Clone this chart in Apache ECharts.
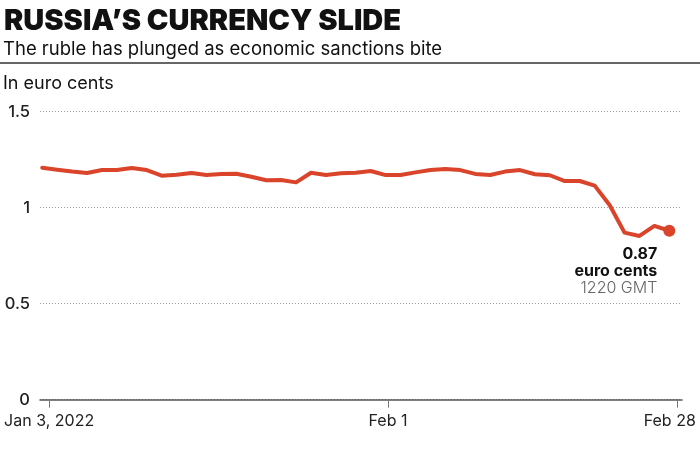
<!DOCTYPE html>
<html>
<head>
<meta charset="utf-8">
<script src="https://cdn.jsdelivr.net/npm/echarts@6/dist/echarts.min.js"></script>
<style>html,body{margin:0;padding:0;background:#fff}#c{width:700px;height:450px}</style>
</head>
<body>
<div id="c"></div>
<script>
// Ruble value in euro cents, daily-ish points Jan 3 – Feb 28, 2022
const values = [1.208, 1.198, 1.188, 1.181, 1.196, 1.196, 1.207, 1.196, 1.167, 1.172,
  1.181, 1.170, 1.176, 1.177, 1.161, 1.143, 1.144, 1.132, 1.182, 1.170,
  1.179, 1.182, 1.191, 1.170, 1.170, 1.184, 1.196, 1.202, 1.196, 1.176,
  1.170, 1.188, 1.196, 1.174, 1.169, 1.139, 1.139, 1.115, 1.014, 0.870,
  0.853, 0.905, 0.880];
const tickPositions = [0.46, 23.16, 42.5];
const tickLabels = ['Jan 3, 2022', 'Feb 1', 'Feb 28'];
const yTicks = [0, 0.5, 1, 1.5];
const lastLabel = ['0.87', 'euro cents', '1220 GMT'];

const FONT = 'Inter, "Noto Sans", sans-serif';
const RED = '#d9442b';
const last = values.length - 1;
const seriesData = values.map((v, i) => i === last ? {
  value: [i, v],
  symbol: 'circle', symbolSize: 12,
  itemStyle: {color: RED},
  label: {
    show: true, position: [-6, 21], align: 'right', verticalAlign: 'top',
    formatter: '{b|' + lastLabel[0] + '}\n{b|' + lastLabel[1] + '}\n{g|' + lastLabel[2] + '}',
    rich: {
      b: {fontFamily: FONT, fontWeight: 700, fontSize: 16, color: '#111', lineHeight: 17, align: 'right'},
      g: {fontFamily: FONT, fontWeight: 300, fontSize: 16, color: '#666', lineHeight: 17, align: 'right'}
    }
  }
} : {value: [i, v], symbol: 'none'});

const chart = echarts.init(document.getElementById('c'), null, {renderer: 'canvas'});
chart.setOption({
  animation: false,
  backgroundColor: '#fff',
  title: [
    {text: 'RUSSIA\u2019S CURRENCY SLIDE', left: -1, top: 2,
     textStyle: {fontFamily: FONT, fontWeight: 900, fontSize: 29, color: '#111'}},
    {text: 'The ruble has plunged as economic sanctions bite', left: -2, top: 35,
     textStyle: {fontFamily: FONT, fontWeight: 400, fontSize: 18.5, color: '#111'}},
    {text: 'In euro cents', left: -2, top: 70,
     textStyle: {fontFamily: FONT, fontWeight: 400, fontSize: 18, color: '#111'}}
  ],
  graphic: [
    {type: 'line', shape: {x1: 0, y1: 63, x2: 700, y2: 63}, style: {stroke: '#333', lineWidth: 1.5}}
  ],
  grid: {left: 40, right: 18, top: 111.7, bottom: 50.3, containLabel: false},
  xAxis: {
    type: 'value', min: -0.15, max: 42.85,
    axisLine: {show: true, lineStyle: {color: '#555', width: 1.5}},
    axisTick: {show: true, customValues: tickPositions, length: 8, lineStyle: {color: '#777', width: 1}},
    axisLabel: {
      customValues: tickPositions, margin: 13,
      fontFamily: FONT, fontSize: 16, color: '#222',
      formatter: function (v) {
        const i = tickPositions.indexOf(v);
        if (i < 0) return '';
        if (i === tickLabels.length - 1) return '{r|' + tickLabels[i] + '}';
        return tickLabels[i];
      },
      rich: {r: {fontFamily: FONT, fontSize: 16, color: '#222', padding: [0, 14, 0, 0]}}
    },
    splitLine: {show: false}
  },
  yAxis: {
    type: 'value', min: 0, max: 1.5, interval: 0.5,
    axisLine: {show: false}, axisTick: {show: false},
    axisLabel: {
      margin: 10, fontFamily: FONT, fontSize: 16.5, fontWeight: 500, color: '#222',
      padding: [0, 0, 7, 0],
      formatter: function (v) { return yTicks.indexOf(v) >= 0 ? String(v) : ''; }
    },
    splitLine: {show: true, lineStyle: {color: '#999', width: 1, type: [1, 2]}}
  },
  series: [{
    type: 'line',
    data: seriesData,
    showSymbol: true,
    lineStyle: {color: RED, width: 4, join: 'round', cap: 'round'},
    itemStyle: {color: RED},
    z: 5
  }]
});
</script>
</body>
</html>
